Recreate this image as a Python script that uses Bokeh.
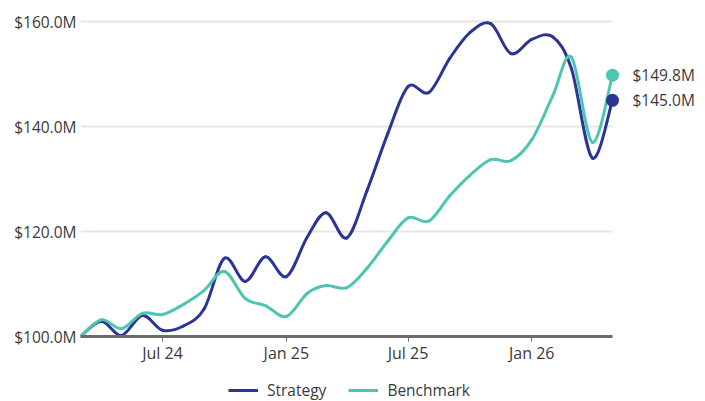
import numpy as np
import pandas as pd
from bokeh.plotting import figure
from bokeh.layouts import column
from bokeh.models import (Range1d, FixedTicker, DatetimeTickFormatter, PrintfTickFormatter,
                          Legend, LegendItem, ColumnDataSource, LinearAxis)
from bokeh.embed import file_html
from bokeh.resources import INLINE

# ---- data (values in $M, monthly) ----
months = pd.date_range("2024-03-01", "2026-05-01", freq="MS")
strategy = [100.0, 102.9, 100.2, 104.0, 101.2, 102.0, 105.3, 114.9, 110.5, 115.2,
            111.4, 118.9, 123.6, 118.8, 127.8, 138.7, 147.6, 146.5, 153.0, 157.9,
            159.6, 153.9, 156.6, 157.1, 151.0, 134.0, 145.0]
benchmark = [100.0, 103.2, 101.5, 104.4, 104.2, 106.1, 108.8, 112.4, 107.2, 105.9,
             103.8, 108.2, 109.7, 109.3, 113.0, 118.2, 122.6, 122.0, 126.8, 130.7,
             133.7, 133.5, 137.5, 145.8, 153.2, 137.0, 149.8]
series_names = ["Strategy", "Benchmark"]
x_tick_dates = ["2024-07-01", "2025-01-01", "2025-07-01", "2026-01-01"]
y_ticks = [100, 120, 140, 160]

NAVY = "#2b3593"
TEAL = "#4ec5b1"
TEXT = "#3a3a3a"
FONT = "Open Sans"
colors = [NAVY, TEAL]

xs = months.values.astype("datetime64[ms]").astype(np.int64).astype(float)
DAY = 86400000.0


def bezier_source(x, y):
    x = np.asarray(x, float)
    y = np.asarray(y, float)
    n = len(x)
    clamp = lambda i: min(max(i, 0), n - 1)
    d = {k: [] for k in ("x0", "y0", "x1", "y1", "cx0", "cy0", "cx1", "cy1")}
    for i in range(n - 1):
        a, b, c, e = clamp(i - 1), i, i + 1, clamp(i + 2)
        d["x0"].append(x[b]); d["y0"].append(y[b])
        d["x1"].append(x[c]); d["y1"].append(y[c])
        d["cx0"].append(x[b] + (x[c] - x[a]) / 6); d["cy0"].append(y[b] + (y[c] - y[a]) / 6)
        d["cx1"].append(x[c] - (x[e] - x[b]) / 6); d["cy1"].append(y[c] - (y[e] - y[b]) / 6)
    return ColumnDataSource(d)


# frame from 80 to 622 px; last month sits at ~612 px
px_per_day = 532.0 / ((xs[-1] - xs[0]) / DAY)
x_end = xs[-1] + (10.0 / px_per_day) * DAY

p = figure(width=705, height=372, x_axis_type="datetime",
           x_range=Range1d(xs[0], x_end),
           y_range=Range1d(100, 160.4),
           output_backend="svg", toolbar_location=None,
           min_border_left=80, min_border_right=83,
           min_border_top=19, min_border_bottom=36)
p.outline_line_color = None
p.grid.visible = False
p.background_fill_color = "white"
p.border_fill_color = "white"

# horizontal gridlines spanning the data range
p.segment(x0=[xs[0]] * len(y_ticks), x1=[xs[-1]] * len(y_ticks), y0=y_ticks, y1=y_ticks,
          line_color="#e8e6e1", line_width=2)

# x axis
tick_ms = [float(pd.Timestamp(t).value // 10**6) for t in x_tick_dates]
xa = p.xaxis[0]
xa.ticker = FixedTicker(ticks=tick_ms)
fmt = "%b %y"
xa.formatter = DatetimeTickFormatter(milliseconds=fmt, seconds=fmt, minsec=fmt, minutes=fmt,
                                     hourmin=fmt, hours=fmt, days=fmt, months=fmt, years=fmt)
xa.bounds = (xs[0], xs[-1])
xa.axis_line_color = "#6b6b6b"
xa.axis_line_width = 3
xa.major_tick_line_color = "#6b6b6b"
xa.major_tick_out = 5
xa.major_tick_in = 0
xa.minor_tick_line_color = None
xa.major_label_standoff = 0
xa.major_label_text_font = FONT
xa.major_label_text_font_size = "16px"
xa.major_label_text_color = TEXT

# y axis
ya = p.yaxis[0]
ya.ticker = FixedTicker(ticks=y_ticks)
ya.formatter = PrintfTickFormatter(format="$%.1fM")
ya.axis_line_color = None
ya.major_tick_line_color = None
ya.minor_tick_line_color = None
ya.major_tick_out = 0
ya.major_tick_in = 0
ya.major_label_standoff = 4
ya.major_label_text_font = FONT
ya.major_label_text_font_size = "15.5px"
ya.major_label_text_color = TEXT

# lines
r_s = p.bezier(x0="x0", y0="y0", x1="x1", y1="y1", cx0="cx0", cy0="cy0", cx1="cx1", cy1="cy1",
               source=bezier_source(xs, strategy), line_color=NAVY, line_width=3, line_cap="round")
r_b = p.bezier(x0="x0", y0="y0", x1="x1", y1="y1", cx0="cx0", cy0="cy0", cx1="cx1", cy1="cy1",
               source=bezier_source(xs, benchmark), line_color=TEAL, line_width=3, line_cap="round")

# end markers
end_vals = [benchmark[-1], strategy[-1]]
p.scatter(x=[xs[-1], xs[-1]], y=end_vals, size=13, color=[TEAL, NAVY], line_color=None)

# end value labels: a right-hand axis ticked at the last values
ra = LinearAxis(ticker=FixedTicker(ticks=end_vals),
                formatter=PrintfTickFormatter(format="$%.1fM"),
                axis_line_color=None, major_tick_line_color=None, minor_tick_line_color=None,
                major_tick_out=0, major_tick_in=0, major_label_standoff=10,
                major_label_text_font=FONT, major_label_text_font_size="15.5px",
                major_label_text_color=TEXT)
p.add_layout(ra, "right")

# legend strip below the chart (its series lie outside the strip's ranges, so only the legend shows)
lg = figure(width=705, height=29, x_range=Range1d(0, 1), y_range=Range1d(0, 1),
            output_backend="svg", toolbar_location=None,
            x_axis_location=None, y_axis_location=None,
            min_border_left=0, min_border_right=0, min_border_top=0, min_border_bottom=0)
lg.outline_line_color = None
lg.grid.visible = False
items = []
for name, col, vals in zip(series_names, colors, [strategy, benchmark]):
    r = lg.line(x=xs, y=vals, line_color=col, line_width=3)
    items.append(LegendItem(label=name, renderers=[r]))
legend = Legend(items=items, location=(148, 0), orientation="horizontal",
                glyph_width=30, glyph_height=20, label_standoff=9, spacing=22,
                padding=0, margin=0, border_line_color=None, background_fill_alpha=0,
                label_text_font=FONT, label_text_font_size="15.5px", label_text_color=TEXT)
lg.add_layout(legend, "center")

layout = column(p, lg, spacing=0)
open("out.html", "w").write(file_html(layout, INLINE))
